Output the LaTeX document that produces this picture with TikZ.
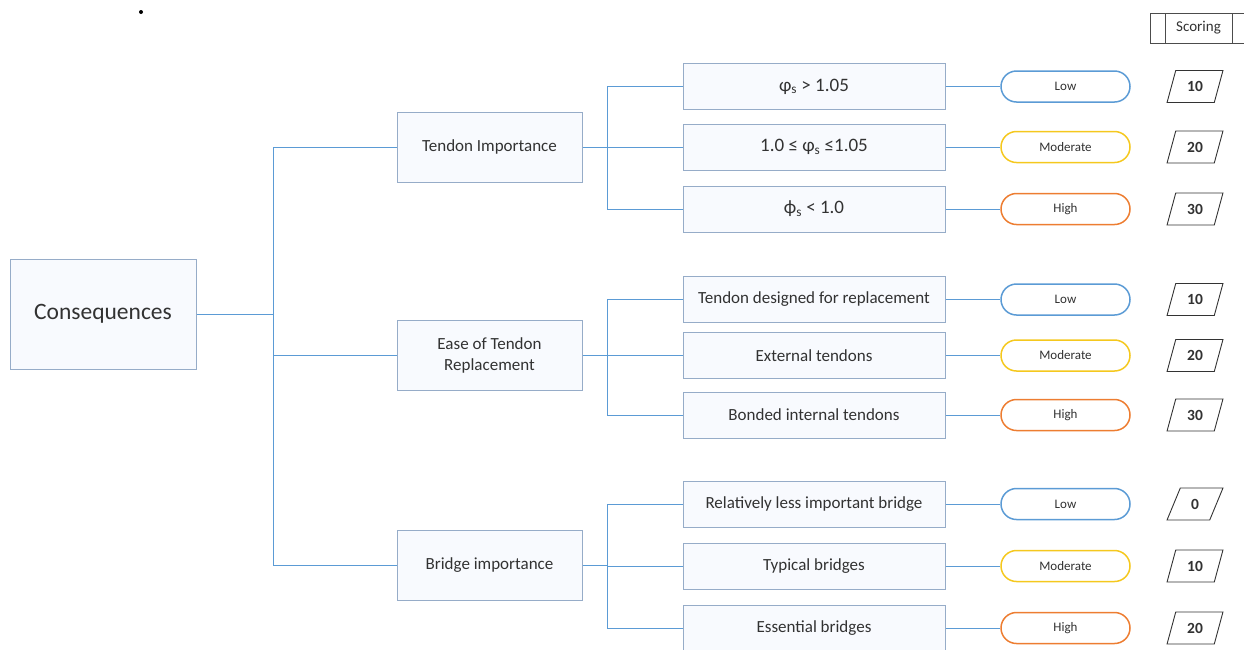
\documentclass[tikz,border=0pt]{standalone}
\usepackage{fontspec}
\setmainfont{Carlito}
\usetikzlibrary{shapes.geometric,calc}
\definecolor{lineblue}{RGB}{91,155,213}
\definecolor{boxedge}{RGB}{150,172,200}
\definecolor{boxfill}{RGB}{248,250,254}
\definecolor{lowc}{RGB}{91,155,213}
\definecolor{modc}{RGB}{245,200,30}
\definecolor{highc}{RGB}{237,125,49}
\definecolor{txt}{RGB}{50,50,50}
\tikzset{
  conn/.style={draw=lineblue, line width=1pt},
  rootbox/.style={draw=boxedge, fill=boxfill, line width=1pt, minimum width=186pt, minimum height=110pt, inner sep=0pt, text=txt, font=\fontsize{23.5}{26}\selectfont},
  catbox/.style={draw=boxedge, fill=boxfill, line width=1pt, minimum width=185pt, minimum height=70pt, inner sep=0pt, text=txt, align=center, font=\fontsize{17}{21}\selectfont},
  optbox/.style={draw=boxedge, fill=boxfill, line width=1pt, minimum width=262pt, minimum height=46pt, inner sep=0pt, text=txt, font=\fontsize{17}{20}\selectfont},
  mathbox/.style={optbox, font=\fontsize{19}{22}\selectfont},
  pill/.style={draw=#1, fill=white, line width=1.5pt, rounded corners=15.5pt, minimum width=129pt, minimum height=31pt, inner sep=0pt, text=txt, font=\fontsize{13}{15}\selectfont},
  score/.style={draw=black!80, fill=white, line width=0.9pt, trapezium, trapezium left angle=71, trapezium right angle=109, trapezium stretches=true, minimum width=56pt, minimum height=32pt, inner sep=0pt, text=txt, font=\bfseries\fontsize{15.5}{17}\selectfont}
}
\begin{document}
\begin{tikzpicture}[x=1pt,y=-1pt]
\useasboundingbox (0,0) rectangle (1244,649);
\fill[black] (141,12) circle (2pt);
% scoring header
\node[text=txt, font=\fontsize{15}{17}\selectfont] (sch) at (1198.5,28) {Scoring};
\draw[black!70, line width=0.9pt] (1150,13) rectangle (1252,43);
\draw[black!70, line width=0.9pt] (1165,13) -- (1165,43) (1232,13) -- (1232,43);
% root
\node[rootbox] (root) at (103,314) {Consequences};
% categories
\node[catbox] (ti) at (489.5,147) {Tendon Importance};
\node[catbox] (er) at (489.5,355.5) {Ease of Tendon\\Replacement};
\node[catbox] (bi) at (489.5,565.5) {Bridge importance};
% options
\node[mathbox] (o1) at (814,86.5) {φ\textsubscript{s} > 1.05};
\node[mathbox] (o2) at (814,147) {1.0 ≤ φ\textsubscript{s} ≤1.05};
\node[mathbox] (o3) at (814,209) {ϕ\textsubscript{s} < 1.0};
\node[optbox] (o4) at (814,299.5) {Tendon designed for replacement};
\node[optbox] (o5) at (814,355.5) {External tendons};
\node[optbox] (o6) at (814,415) {Bonded internal tendons};
\node[optbox] (o7) at (814,504) {Relatively less important bridge};
\node[optbox] (o8) at (814,566) {Typical bridges};
\node[optbox] (o9) at (814,628) {Essential bridges};
% pills
\foreach \i/\y/\c/\t in {1/86.5/lowc/Low,2/147/modc/Moderate,3/209/highc/High,4/299.5/lowc/Low,5/355.5/modc/Moderate,6/415/highc/High,7/504/lowc/Low,8/566/modc/Moderate,9/628/highc/High}{
  \node[pill=\c] (p\i) at (1065.5,\y) {\t};
  \draw[conn] (o\i.east) -- (p\i.west);
}
% scores
\foreach \i/\y/\s in {1/86.5/10,2/147/20,3/209/30,4/299.5/10,5/355.5/20,6/415/30,7/504/0,8/566/10,9/628/20}{
  \node[score] (s\i) at (1195,\y) {\s};
}
% connectors
\coordinate (tr) at (273,0);
\draw[conn] (root.east) -- (root.east -| tr);
\draw[conn] (ti.west) -- (ti.west -| tr) -- (bi.west -| tr) -- (bi.west);
\draw[conn] (er.west) -- (er.west -| tr);
\coordinate (br) at (607,0);
\foreach \c/\a/\b/\m in {ti/o1/o3/o2, er/o4/o6/o5, bi/o7/o9/o8}{
  \draw[conn] (\c.east) -- (\c.east -| br);
  \draw[conn] (\a.west) -- (\a.west -| br) -- (\b.west -| br) -- (\b.west);
  \draw[conn] (\m.west) -- (\m.west -| br);
}
\end{tikzpicture}
\end{document}
